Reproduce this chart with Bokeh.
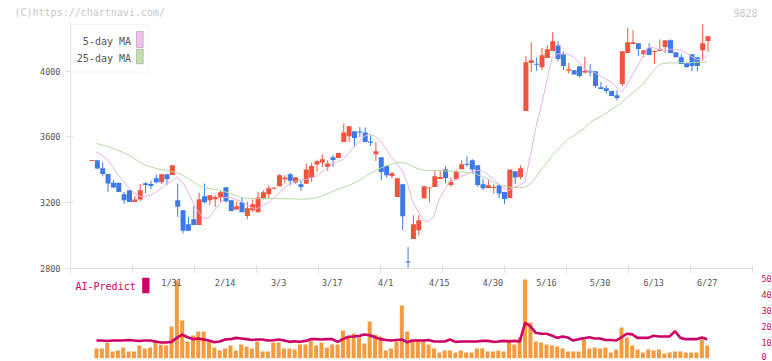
from bokeh.plotting import figure
from bokeh.layouts import column
from bokeh.models import ColumnDataSource, FixedTicker, Label, BoxAnnotation, Range1d
from bokeh.embed import file_html
from bokeh.resources import INLINE

# ---------------- data ----------------
opens = [3454, 3458, 3410, 3375, 3321, 3321, 3252, 3276, 3205, 3220,
         3319, 3314, 3349, 3325, 3373, 3369, 3215, 3155, 3069, 3100,
         3065, 3240, 3215, 3221, 3233, 3294, 3215, 3159, 3203, 3120,
         3155, 3142, 3223, 3252, 3285, 3300, 3343, 3373, 3321, 3313,
         3315, 3353, 3432, 3444, 3418, 3477, 3472, 3570, 3604, 3635,
         3633, 3627, 3572, 3495, 3477, 3424, 3363, 3235, 3313, 2843,
         2980, 3033, 3227, 3288, 3296, 3345, 3404, 3308, 3343, 3404,
         3437, 3458, 3428, 3313, 3290, 3290, 3306, 3266, 3229, 3392,
         3357, 3758, 4050, 4045, 4024, 4080, 4123, 4157, 4103, 4002,
         4006, 4030, 3992, 4002, 4000, 3902, 3896, 3880, 3854, 3922,
         4111, 4166, 4170, 4103, 4139, 4117, 4123, 4147, 4188, 4115,
         4085, 4048, 4103, 4085, 4127, 4184]
highs = [3460, 3458, 3446, 3375, 3337, 3321, 3266, 3276, 3240, 3314,
         3325, 3333, 3373, 3373, 3373, 3428, 3317, 3155, 3114, 3179,
         3262, 3317, 3246, 3246, 3278, 3294, 3215, 3209, 3233, 3207,
         3220, 3266, 3275, 3306, 3294, 3373, 3367, 3380, 3355, 3337,
         3438, 3442, 3462, 3493, 3458, 3491, 3503, 3682, 3665, 3635,
         3661, 3657, 3610, 3570, 3477, 3424, 3387, 3349, 3313, 2931,
         3124, 3124, 3300, 3295, 3398, 3398, 3422, 3353, 3402, 3458,
         3483, 3465, 3428, 3345, 3337, 3313, 3306, 3266, 3402, 3392,
         3428, 4091, 4176, 4083, 4141, 4157, 4237, 4182, 4121, 4050,
         4006, 4030, 4087, 4042, 4000, 3934, 3913, 3880, 3884, 4121,
         4263, 4249, 4170, 4127, 4170, 4125, 4194, 4188, 4194, 4115,
         4103, 4048, 4103, 4085, 4286, 4212]
lows = [3454, 3402, 3360, 3266, 3290, 3266, 3193, 3205, 3205, 3211,
        3258, 3282, 3319, 3314, 3308, 3369, 3114, 3013, 3029, 3065,
        3065, 3195, 3185, 3175, 3205, 3201, 3150, 3159, 3142, 3100,
        3144, 3142, 3220, 3226, 3282, 3300, 3317, 3306, 3315, 3272,
        3315, 3327, 3387, 3418, 3394, 3418, 3472, 3570, 3570, 3539,
        3600, 3570, 3545, 3454, 3337, 3353, 3347, 3235, 3033, 2805,
        2980, 3002, 3223, 3205, 3296, 3345, 3317, 3296, 3343, 3404,
        3420, 3378, 3296, 3276, 3290, 3256, 3229, 3191, 3229, 3313,
        3343, 3758, 3996, 4002, 4006, 4080, 4123, 4060, 4006, 3986,
        3980, 3961, 3986, 3969, 3898, 3890, 3864, 3849, 3823, 3910,
        4111, 4166, 4093, 4085, 4099, 4044, 4123, 4111, 4111, 4085,
        4044, 4020, 4000, 4000, 4066, 4117]
closes = [3460, 3408, 3375, 3317, 3292, 3266, 3215, 3205, 3220, 3276,
          3308, 3302, 3325, 3373, 3343, 3428, 3175, 3029, 3029, 3065,
          3221, 3203, 3246, 3235, 3264, 3209, 3150, 3179, 3142, 3167,
          3191, 3232, 3264, 3288, 3291, 3367, 3353, 3333, 3355, 3296,
          3402, 3424, 3452, 3465, 3438, 3460, 3503, 3627, 3665, 3594,
          3627, 3570, 3565, 3513, 3387, 3367, 3379, 3349, 3118, 2837,
          3069, 3094, 3300, 3293, 3361, 3357, 3351, 3327, 3392, 3434,
          3431, 3402, 3308, 3288, 3306, 3295, 3256, 3223, 3402, 3353,
          3410, 4054, 4066, 4039, 4097, 4133, 4182, 4074, 4032, 4012,
          3980, 3971, 4002, 3992, 3910, 3892, 3880, 3849, 3837, 4121,
          4176, 4176, 4135, 4127, 4099, 4123, 4133, 4188, 4111, 4085,
          4044, 4026, 4032, 4032, 4170, 4212]

ma5 = [3509, 3490, 3465, 3420, 3370, 3332, 3293, 3259, 3240, 3237,
       3245, 3262, 3286, 3317, 3330, 3354, 3329, 3270, 3201, 3146,
       3104, 3110, 3153, 3194, 3234, 3232, 3221, 3208, 3189, 3169,
       3165, 3182, 3199, 3228, 3253, 3288, 3312, 3326, 3339, 3341,
       3348, 3362, 3386, 3408, 3436, 3448, 3464, 3499, 3539, 3570,
       3604, 3617, 3605, 3574, 3533, 3480, 3442, 3399, 3320, 3211,
       3151, 3094, 3084, 3119, 3223, 3281, 3332, 3338, 3358, 3372,
       3387, 3397, 3394, 3373, 3347, 3319, 3290, 3273, 3296, 3305,
       3329, 3488, 3657, 3785, 3934, 4078, 4104, 4106, 4104, 4087,
       4056, 4014, 3999, 3991, 3971, 3953, 3935, 3905, 3874, 3916,
       3973, 4032, 4089, 4147, 4143, 4132, 4123, 4134, 4130, 4128,
       4112, 4091, 4072, 4068, 4095]
ma25 = [3560, 3552, 3542, 3532, 3518, 3505, 3490, 3470, 3448, 3430,
        3419, 3410, 3402, 3396, 3390, 3382, 3372, 3348, 3330, 3305,
        3294, 3287, 3282, 3276, 3266, 3256, 3243, 3231, 3227, 3225,
        3225, 3225, 3226, 3226, 3225, 3225, 3224, 3223, 3222, 3222,
        3224, 3230, 3240, 3254, 3268, 3280, 3292, 3304, 3318, 3336,
        3356, 3376, 3394, 3410, 3424, 3434, 3442, 3445, 3440, 3420,
        3408, 3398, 3397, 3396, 3395, 3394, 3392, 3390, 3388, 3385,
        3381, 3372, 3360, 3345, 3328, 3312, 3300, 3295, 3293, 3292,
        3295, 3316, 3355, 3400, 3440, 3485, 3520, 3555, 3585, 3605,
        3630, 3650, 3685, 3706, 3722, 3742, 3764, 3786, 3806, 3840,
        3866, 3892, 3920, 3962, 4005, 4040, 4048, 4050, 4051, 4052,
        4052, 4053, 4054, 4055, 4056]

volume = [6.1, 6.1, 9.5, 4.2, 4.9, 6.7, 4.2, 4.2, 8.0, 6.1,
          6.7, 10.5, 8.4, 8.0, 20.0, 48.9, 23.7, 10.5, 14.3, 16.8,
          16.8, 11.1, 6.7, 4.9, 6.1, 8.0, 4.9, 8.6, 7.4, 6.1,
          10.5, 4.2, 4.2, 9.9, 9.9, 6.1, 6.1, 5.5, 8.6, 8.6,
          10.8, 8.0, 9.9, 6.7, 8.6, 8.6, 17.4, 13.0, 15.6, 13.0,
          9.3, 23.1, 14.9, 13.7, 4.9, 6.1, 10.5, 33.2, 16.8, 11.8,
          11.8, 11.8, 8.6, 6.1, 3.6, 4.9, 4.9, 3.6, 4.9, 3.6,
          3.6, 6.1, 6.1, 4.2, 4.2, 4.9, 4.2, 11.8, 8.6, 13.0,
          49.6, 22.5, 10.5, 9.9, 8.6, 8.0, 7.4, 6.1, 4.2, 4.2,
          4.2, 11.8, 6.1, 6.7, 6.1, 6.7, 3.6, 5.5, 19.3, 13.0,
          8.0, 5.5, 3.6, 5.5, 4.9, 5.5, 3.0, 3.6, 4.2, 4.2,
          3.6, 3.6, 3.6, 11.8, 8.0]
ai_predict = [11.1, 11.1, 10.8, 11.1, 11.1, 11.1, 11.5, 11.1, 10.8, 11.1,
              11.1, 10.5, 9.9, 9.9, 10.3, 12.8, 14.9, 13.2, 12.0, 12.4,
              11.8, 11.1, 10.1, 10.5, 11.8, 12.0, 12.8, 12.4, 12.0, 11.5,
              11.8, 11.8, 11.1, 11.3, 11.8, 11.1, 10.3, 10.7, 10.3, 10.9,
              12.0, 12.0, 11.8, 12.0, 12.0, 10.3, 12.0, 13.5, 13.7, 14.0,
              14.9, 14.5, 13.2, 12.0, 11.5, 11.1, 11.5, 11.8, 10.0, 11.1,
              11.1, 11.1, 11.5, 10.5, 10.5, 10.5, 11.8, 10.3, 10.5, 10.5,
              10.5, 10.5, 10.9, 10.9, 10.3, 10.5, 10.9, 10.5, 10.9, 10.5,
              22.3, 20.0, 16.0, 15.4, 15.4, 14.3, 12.8, 13.7, 13.0, 11.1,
              12.0, 12.6, 13.2, 12.4, 12.4, 11.5, 11.5, 11.1, 13.2, 15.4,
              15.0, 12.8, 12.8, 12.8, 14.1, 13.7, 13.7, 13.7, 17.0, 12.8,
              12.0, 12.0, 12.0, 13.0, 12.0]

tick_days = [15, 25, 35, 45, 55, 65, 75, 85, 95, 105, 115]
tick_labels = ["1/31", "2/14", "3/3", "3/17", "4/1", "4/15", "4/30",
               "5/16", "5/30", "6/13", "6/27"]
price_ticks = [2800, 3200, 3600, 4000]
vol_ticks = [0, 10, 20, 30, 40, 50]

# ---------------- layout / style ----------------
FONT = "DejaVu Sans Mono"
PX_DAY = 5.357             # pixels per trading day
FRAME_W = 682
LEFT, RIGHT = 70, 18
TOTAL_W = LEFT + FRAME_W + RIGHT
CANDLE_SHIFT = 0.84        # candles sit a little left of their date slot
X0 = 1 - (96 - LEFT) / PX_DAY
X1 = X0 + FRAME_W / PX_DAY
YPX = 6.082                # yen per pixel
HEAD_H = 22
MAIN_H = 246
P0 = 2800
P1 = P0 + MAIN_H * YPX

RED, BLUE = "#f0543f", "#3e7ae6"
PINK, GREEN = "#e6b2e6", "#b6daa4"
ORANGE, MAGENTA = "#f49a3f", "#cc0066"
AXIS = "#dedede"

def dx(px):   # page pixel -> day value
    return X0 + (px - LEFT) / PX_DAY

def py(px):   # page pixel -> price value
    return P0 + (HEAD_H + MAIN_H - px) * YPX

# ---------------- header strip ----------------
pH = figure(width=TOTAL_W, height=HEAD_H,
            x_range=Range1d(0, TOTAL_W), y_range=Range1d(HEAD_H, 0),
            output_backend="svg", toolbar_location=None,
            x_axis_location=None, y_axis_location=None,
            min_border_left=0, min_border_right=0,
            min_border_top=0, min_border_bottom=0)
pH.grid.visible = False
pH.outline_line_color = None
pH.add_layout(Label(x=14, y=12.3, text="(C)https://chartnavi.com/",
                    text_align="left", text_baseline="middle", text_font=FONT,
                    text_font_size="10px", text_color="#c8c8c8"))
pH.add_layout(Label(x=757, y=12.3, text="9828",
                    text_align="right", text_baseline="middle", text_font=FONT,
                    text_font_size="10px", text_color="#c8c8c8"))

# ---------------- main candle panel ----------------
n = len(closes)
days = list(range(1, n + 1))
cx = [d - CANDLE_SHIFT for d in days]
colors = [RED if c >= o else BLUE for o, c in zip(opens, closes)]
src = ColumnDataSource(dict(
    x=cx, o=opens, h=highs, l=lows, c=closes, color=colors,
    top=[max(o, c) for o, c in zip(opens, closes)],
    bot=[min(o, c) for o, c in zip(opens, closes)]))

pA = figure(frame_width=FRAME_W, frame_height=MAIN_H,
            x_range=Range1d(X0, X1), y_range=Range1d(P0, P1),
            output_backend="svg", toolbar_location=None,
            min_border_left=LEFT, min_border_right=RIGHT,
            min_border_top=0, min_border_bottom=5)
pA.grid.visible = False
pA.outline_line_color = None

ya = pA.yaxis[0]
ya.ticker = FixedTicker(ticks=price_ticks)
ya.axis_line_color = AXIS
ya.major_tick_line_color = AXIS
ya.major_tick_out = 5
ya.major_tick_in = 3
ya.minor_tick_line_color = None
ya.major_label_text_font = FONT
ya.major_label_text_font_size = "8.5px"
ya.major_label_text_color = "#555555"
ya.major_label_standoff = 5

xa = pA.xaxis[0]
xa.ticker = FixedTicker(ticks=[], minor_ticks=[X0 + 62 * k / PX_DAY for k in range(12)])
xa.axis_line_color = AXIS
xa.major_tick_line_color = None
xa.minor_tick_line_color = AXIS
xa.minor_tick_out = 5
xa.minor_tick_in = 3
xa.major_label_standoff = 0

pA.segment(x0="x", y0="l", x1="x", y1="h", color="color", line_width=1, source=src)
pA.vbar(x="x", width=5 / PX_DAY, top="top", bottom="bot",
        fill_color="color", line_color=None, source=src)

ma_x = days[:len(ma5)]
pA.line(ma_x, ma25, color=GREEN, line_width=1)
pA.line(ma_x, ma5, color=PINK, line_width=1)

# legend box
pA.add_layout(BoxAnnotation(left=X0, right=dx(148.3), top=py(24), bottom=py(71.7),
                            fill_color="white", fill_alpha=1,
                            line_color="#dddddd", line_width=1))
pA.add_layout(BoxAnnotation(left=dx(136), right=dx(142.7), top=py(31), bottom=py(47),
                            fill_color="#f0c0f0", fill_alpha=1,
                            line_color="#555555", line_width=1))
pA.add_layout(BoxAnnotation(left=dx(136), right=dx(142.7), top=py(48.7), bottom=py(63.3),
                            fill_color="#c2e0b2", fill_alpha=1,
                            line_color="#555555", line_width=1))
for txt, yy in (("5-day MA", 40.5), ("25-day MA", 57.5)):
    pA.add_layout(Label(x=dx(130.5), y=py(yy), text=txt, text_align="right",
                        text_baseline="middle", text_font=FONT,
                        text_font_size="10px", text_color="#555555"))

# ---------------- bottom panel ----------------
VPX = 1.588         # px per unit
V_BASE = 357.7      # page y of value 0
B_TOP = HEAD_H + MAIN_H + 5
B_H = 85
B_BOTTOM = 3
v0 = -(B_TOP + B_H - V_BASE) / VPX
v1 = (V_BASE - B_TOP) / VPX

def vy(px):
    return (V_BASE - px) / VPX

pB = figure(frame_width=FRAME_W, frame_height=B_H,
            x_range=pA.x_range, y_range=Range1d(v0, v1),
            output_backend="svg", toolbar_location=None,
            x_axis_location=None, y_axis_location="right",
            min_border_left=LEFT, min_border_right=RIGHT,
            min_border_top=0, min_border_bottom=B_BOTTOM)
pB.grid.visible = False
pB.outline_line_color = None

# the lowest label is lifted ~2px so it stays inside the window
LIFT = 1.3
label_pos = [t if t > 0 else t + LIFT for t in vol_ticks]
yb = pB.yaxis[0]
yb.ticker = FixedTicker(ticks=label_pos)
yb.major_label_overrides = {p: str(t) for p, t in zip(label_pos, vol_ticks)}
yb.axis_line_color = None
yb.major_tick_line_color = None
yb.minor_tick_line_color = None
yb.major_label_text_font = FONT
yb.major_label_text_font_size = "8.5px"
yb.major_label_text_color = MAGENTA
yb.major_label_standoff = 3

vx = days[:len(volume)]
pB.vbar(x=vx, width=4 / PX_DAY, top=volume, bottom=0,
        fill_color=ORANGE, line_color=None)
pB.line(vx, ai_predict, color=MAGENTA, line_width=2.6)

for d, t in zip(tick_days, tick_labels):
    pB.add_layout(Label(x=d, y=vy(282.3), text=t, text_align="center",
                        text_baseline="middle", text_font=FONT,
                        text_font_size="8.5px", text_color="#555555"))
pB.add_layout(Label(x=dx(75), y=vy(285.8), text="AI-Predict", text_align="left",
                    text_baseline="middle", text_font=FONT,
                    text_font_size="10px", text_color=MAGENTA))
pB.add_layout(BoxAnnotation(left=dx(141.7), right=dx(149), top=vy(277.3),
                            bottom=vy(292.7), fill_color=MAGENTA, fill_alpha=1,
                            line_color=None))

layout = column(pH, column(pA, pB, spacing=0), spacing=0)
open("out.html", "w").write(file_html(layout, INLINE))
